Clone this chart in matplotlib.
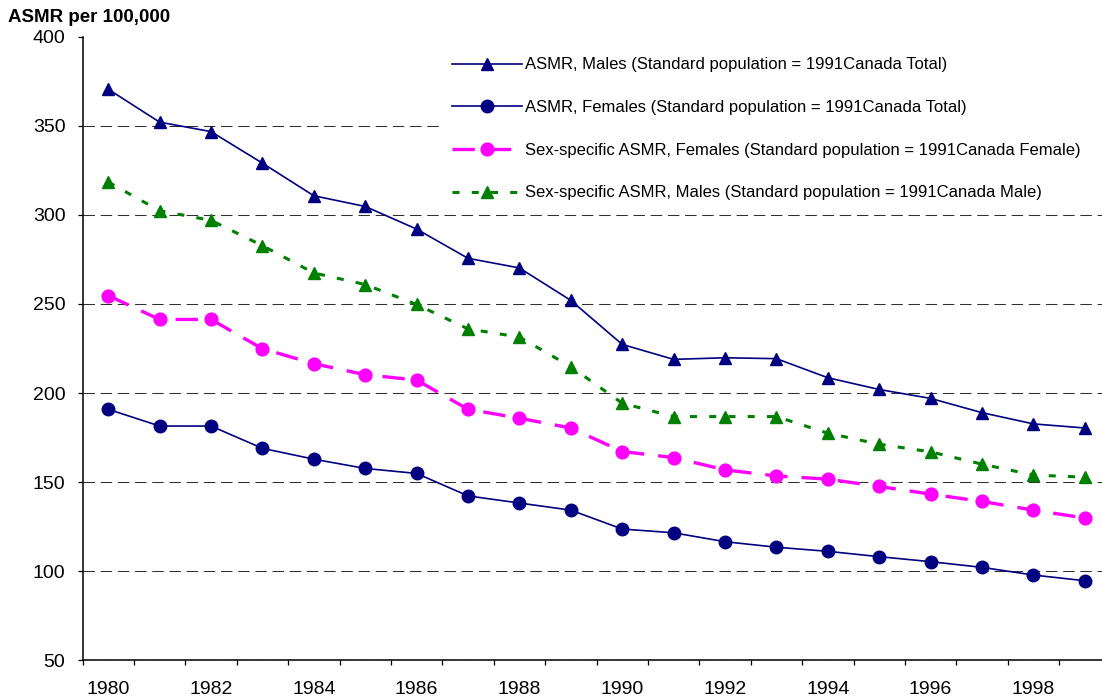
import numpy as np
import matplotlib
matplotlib.use('Agg')
import matplotlib.pyplot as plt

plt.rcParams['font.family'] = ['Liberation Sans', 'DejaVu Sans']

# Age-standardized mortality rates per 100,000, 1980-1999
years = list(range(1980, 2000))
males_total = [370.5, 352.0, 346.7, 329.0, 310.7, 304.7, 292.0, 275.6, 270.2, 252.0,
               227.3, 218.9, 219.8, 219.3, 208.6, 202.0, 197.0, 189.0, 182.7, 180.4]
females_total = [190.9, 181.5, 181.5, 169.0, 162.9, 157.7, 154.9, 142.3, 138.3, 134.3,
                 123.7, 121.6, 116.6, 113.5, 111.2, 108.2, 105.4, 102.2, 97.9, 94.7]
females_sex = [254.7, 241.3, 241.3, 224.9, 216.5, 210.3, 207.3, 190.9, 185.9, 180.4,
               167.2, 163.8, 156.9, 153.5, 151.7, 147.6, 143.3, 139.2, 134.3, 129.9]
males_sex = [318.4, 302.3, 296.9, 282.7, 267.4, 260.9, 249.7, 236.0, 231.4, 214.8,
             194.3, 186.8, 186.8, 186.8, 177.5, 171.3, 167.0, 160.1, 154.0, 152.8]

labels = [
    'ASMR, Males (Standard population = 1991Canada Total)',
    'ASMR, Females (Standard population = 1991Canada Total)',
    'Sex-specific ASMR, Females (Standard population = 1991Canada Female)',
    'Sex-specific ASMR, Males (Standard population = 1991Canada Male)',
]
y_ticks = [50, 100, 150, 200, 250, 300, 350, 400]

W, H = 1102, 700
fig = plt.figure(figsize=(W / 100, H / 100), dpi=100)
# axes box in pixels: left 82.5, right 1110.5 (runs past the edge), top 36.6, bottom 660.4
ax = fig.add_axes([82.5 / W, (H - 660.4) / H, 1028 / W, (660.4 - 36.6) / H])

navy = '#000080'
h1, = ax.plot(years, males_total, color=navy, lw=1.2, marker='^', ms=9,
              mfc=navy, mec=navy, zorder=3)
h2, = ax.plot(years, females_total, color=navy, lw=1.2, marker='o', ms=9,
              mfc=navy, mec=navy, zorder=3)
h3, = ax.plot(years, females_sex, color='#FF00FF', lw=2.4, ls=(0, (6.7, 4.2)),
              marker='o', ms=9.2, mfc='#FF00FF', mec='#FF00FF', zorder=4)
h4, = ax.plot(years, males_sex, color='#008000', lw=2.2, ls=(0, (2.3, 4)),
              marker='^', ms=9, mfc='#008000', mec='#008000', zorder=5)

ax.set_xlim(years[0] - 0.5, years[-1] + 0.5)
ax.set_ylim(50, 400)
ax.set_yticks(y_ticks)
ax.set_yticklabels([str(v) for v in y_ticks])

# category boundaries carry the tick marks, every other year gets a label
ax.set_xticks(np.arange(years[0] - 0.5, years[-1] + 1.0, 1.0))
ax.set_xticklabels([])
ax.set_xticks(years[::2], minor=True)
ax.set_xticklabels([str(y) for y in years[::2]], minor=True)

ax.tick_params(axis='x', which='major', direction='out', length=3.6, width=0.9)
ax.tick_params(axis='x', which='minor', length=0, pad=15, labelsize=14)
ax.tick_params(axis='y', direction='out', length=3.8, width=0.9, pad=8.5, labelsize=14)

for side in ['top', 'right']:
    ax.spines[side].set_visible(False)
for side in ['left', 'bottom']:
    ax.spines[side].set_linewidth(1.1)

ax.yaxis.grid(True, color='#303030', lw=0.75, ls=(0, (11, 5.5)), zorder=1)
ax.get_ygridlines()[-1].set_visible(False)
ax.set_axisbelow(True)

# legend box stretched to the right edge so it hides the grid behind it
leg = ax.legend([h1, h2, h3, h4], labels, loc='upper left', mode='expand',
                bbox_to_anchor=(439 / W, (H - 44) / H, (W - 439) / W, 0),
                bbox_transform=fig.transFigure,
                fontsize=12, frameon=True, facecolor='white', edgecolor='none',
                framealpha=1, fancybox=False, borderpad=0.8, borderaxespad=0,
                handlelength=4.2, handletextpad=0.18, labelspacing=1.66)
leg.set_zorder(6)

fig.text(8 / W, (H - 17) / H, 'ASMR per 100,000', fontsize=13.5, fontweight='bold',
         ha='left', va='center')

fig.savefig('out.png', dpi=100)
